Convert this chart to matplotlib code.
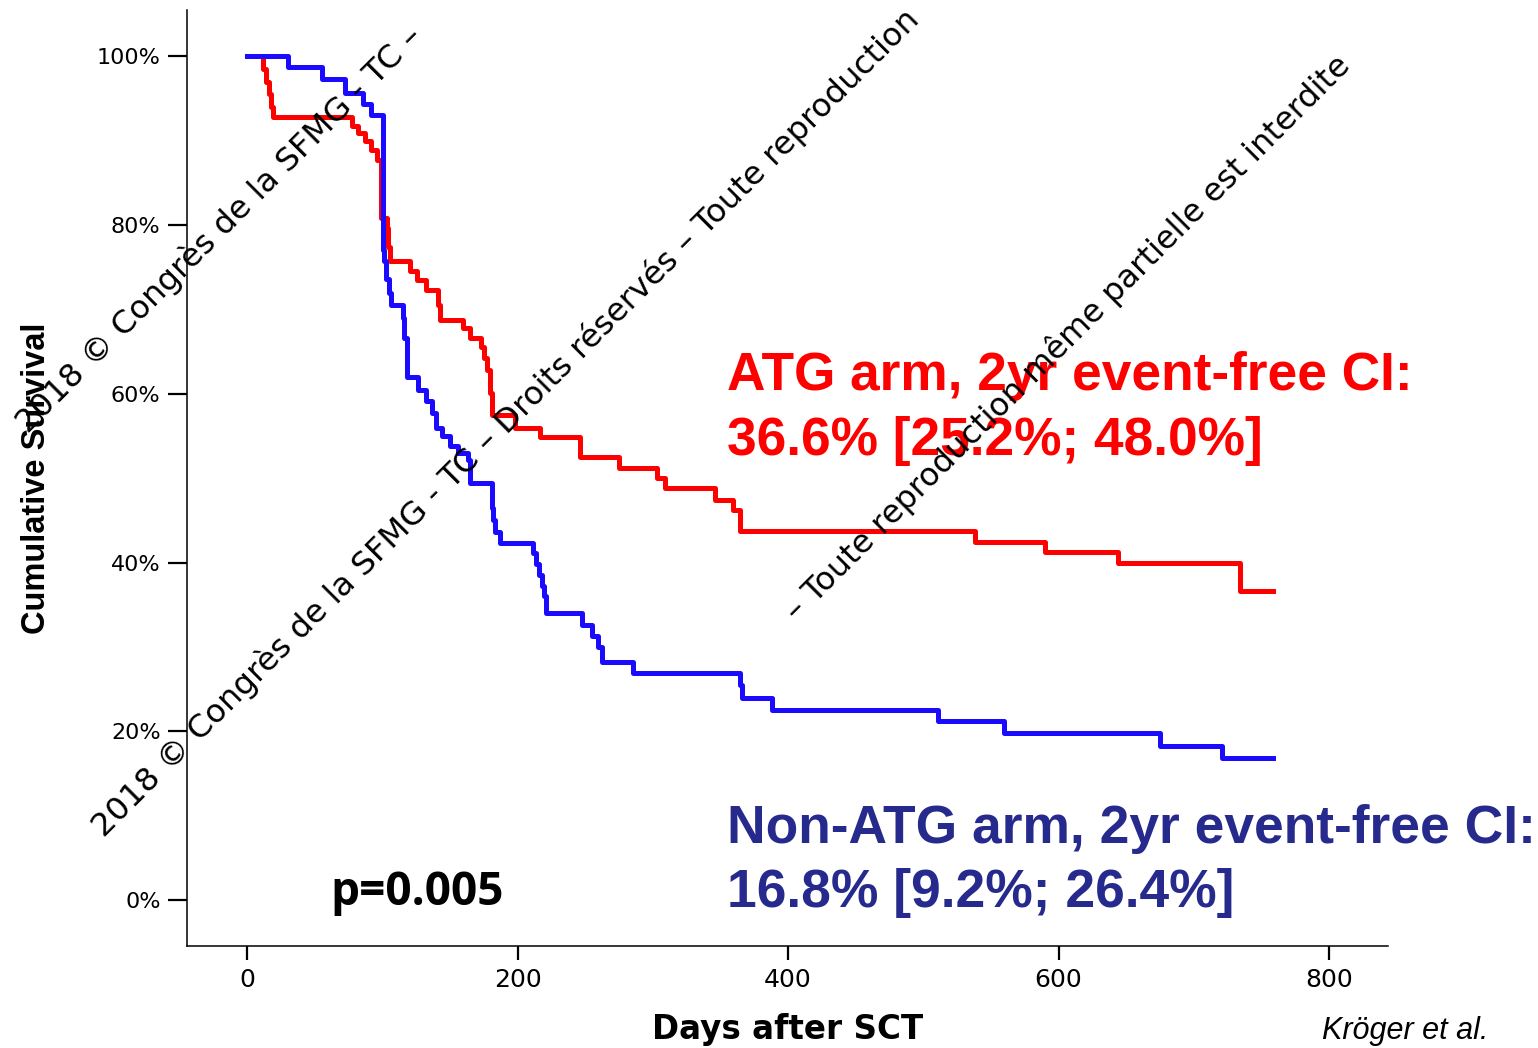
import matplotlib
matplotlib.use("Agg")
import matplotlib.pyplot as plt

# ATG arm (red) - Kaplan-Meier steps
red_days = [0, 11.5, 14, 16.5, 18, 19, 77.6, 82, 87, 92, 96, 99, 103.5, 104.5, 105.5,
            120.5, 126, 132, 141.5, 142.7, 160, 164.5, 173, 175, 177.5, 180, 181,
            198, 216.6, 246, 275, 303, 309, 346, 359, 364.5, 538, 590, 644, 734, 758.6]
red_surv = [100, 98.5, 97.0, 95.5, 94.0, 92.8, 91.8, 90.9, 90.0, 88.9, 87.7, 80.9, 79.7, 77.4, 75.8,
            74.6, 73.5, 72.3, 70.5, 68.7, 67.8, 66.6, 65.5, 64.3, 62.8, 60.1, 57.5,
            56.0, 54.9, 52.5, 51.2, 50.0, 48.8, 47.4, 46.2, 43.7, 42.4, 41.2, 40.0, 36.6, 36.6]

# Non-ATG arm (blue)
blue_days = [0, 30, 55.5, 72.5, 86, 92, 100.5, 101.5, 103, 105, 106.5, 115.3, 116, 118, 118.5,
             126.4, 132, 137, 140, 144, 150, 156, 163, 165, 181, 182, 183.5, 187,
             211.5, 214, 216, 218, 219.5, 221, 248, 255, 259.5, 262.5, 285,
             364.5, 366, 388, 511, 560, 675, 721, 758.6]
blue_surv = [100, 98.7, 97.3, 95.7, 94.4, 93.0, 77.0, 75.8, 73.6, 72.0, 70.5, 69.0, 66.6, 64.3, 62.0,
             60.5, 59.2, 57.7, 56.0, 55.0, 53.8, 53.0, 52.2, 49.4, 46.5, 45.0, 43.6, 42.3,
             41.1, 39.8, 38.5, 37.2, 36.0, 34.0, 32.6, 31.3, 30.0, 28.2, 26.9,
             25.5, 23.9, 22.5, 21.2, 19.8, 18.3, 16.8, 16.8]

x_ticks = [0, 200, 400, 600, 800]
y_ticks = [0, 20, 40, 60, 80, 100]
y_tick_labels = ["0%", "20%", "40%", "60%", "80%", "100%"]

atg_lines = ["ATG arm, 2yr event-free CI:", "36.6% [25.2%; 48.0%]"]
non_atg_lines = ["Non-ATG arm, 2yr event-free CI:", "16.8% [9.2%; 26.4%]"]
watermark = "2018 © Congrès de la SFMG - TC – Droits réservés – Toute reproduction"
watermark_top = "2018 © Congrès de la SFMG - TC –"
watermark_right = "– Toute reproduction même partielle est interdite"

W, H = 1538, 1048
fig = plt.figure(figsize=(W / 100, H / 100), dpi=100)
ax = fig.add_axes([187 / W, 1 - 946 / H, (1388 - 187) / W, (946 - 10) / H])

ax.step(red_days, red_surv, where="post", color="#ff0000", lw=3.6)
ax.step(blue_days, blue_surv, where="post", color="#1a0aff", lw=3.6)

ax.set_xlim(-44.4, 843.6)
ax.set_ylim(-5.45, 105.5)

for s in ["top", "right"]:
    ax.spines[s].set_visible(False)
for s in ["left", "bottom"]:
    ax.spines[s].set_linewidth(1.1)

ax.set_xticks(x_ticks)
ax.set_yticks(y_ticks)
ax.set_yticklabels(y_tick_labels)
ax.tick_params(axis="y", length=14, width=1.6, pad=5, labelsize=16)
ax.tick_params(axis="x", length=10, width=1.6, pad=6, labelsize=18)

ax.set_xlabel("Days after SCT", fontsize=23.5, fontweight="bold")
ax.xaxis.set_label_coords(0.5, -0.072)
ax.set_ylabel("Cumulative Survival", fontsize=23.5, fontweight="bold", family="Liberation Sans")
ax.yaxis.set_label_coords(-0.112, 0.5)

# textes des bras
for i, line in enumerate(atg_lines):
    fig.text(727 / W, 1 - (390 + 65 * i) / H, line, color="#ff0000", fontsize=38.3,
             fontweight="bold", family="Liberation Sans", va="baseline")
for i, line in enumerate(non_atg_lines):
    fig.text(727 / W, 1 - (843 + 64 * i) / H, line, color="#262a8c", fontsize=38.4,
             fontweight="bold", family="Liberation Sans", va="baseline")

fig.text(330 / W, 1 - 905 / H, "p=0.005", fontsize=33, fontweight="bold",
         family="Open Sans", va="baseline")

fig.text(1322 / W, 1 - 1046 / H, "Kröger et al.", fontsize=22, style="italic",
         family="Liberation Sans", va="bottom")

# filigrane
for (px, py), txt, fs in [((28, 434), watermark_top, 23.3), ((104, 838), watermark, 23.3),
                          ((797, 622), watermark_right, 23)]:
    fig.text(px / W, 1 - py / H, txt, fontsize=fs, rotation=45, rotation_mode="anchor",
             ha="left", va="baseline", color="black", family="DejaVu Sans")

fig.savefig("out.png", dpi=100)
